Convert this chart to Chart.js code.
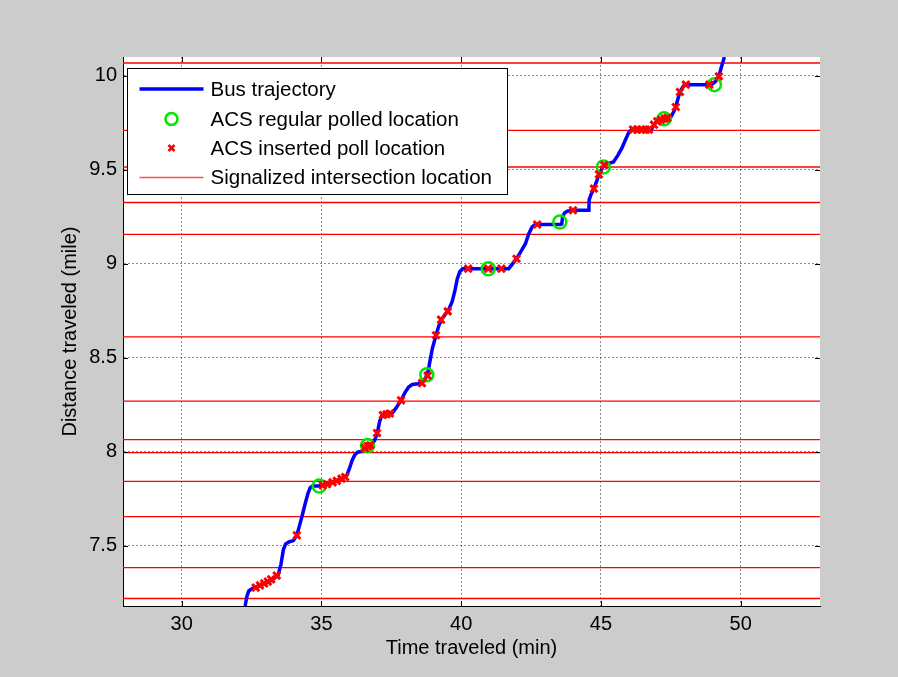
<!DOCTYPE html>
<html>
<head>
<meta charset="utf-8">
<script src="https://cdn.jsdelivr.net/npm/chart.js@4"></script>
<style>
  html, body { margin: 0; padding: 0; background: #cccccc; }
  canvas { display: block; }
</style>
</head>
<body>
<canvas id="busChart" width="898" height="677"></canvas>
<script>
// bus trajectory (time in min, distance in mile)
const tripTime = [32.27, 32.33, 32.40, 32.55, 32.75, 33.0, 33.25, 33.45, 33.55, 33.64, 33.72, 33.85, 34.0, 34.12,
  34.22, 34.32, 34.42, 34.52, 34.6, 34.68, 34.92, 35.1, 35.4, 35.7, 35.9, 36.0, 36.1, 36.2, 36.3, 36.45, 36.6, 36.8,
  36.9, 37.0, 37.08, 37.16, 37.3, 37.55, 37.7, 37.85, 38.0, 38.12, 38.25, 38.45, 38.6, 38.72, 38.82, 38.88, 38.97,
  39.1, 39.2, 39.3, 39.45, 39.55, 39.68, 39.78, 39.86, 39.95, 40.05, 41.7, 41.83, 41.98, 42.13, 42.3, 42.42, 42.54,
  42.65, 43.55, 43.6, 43.63, 43.7, 43.8, 44.0, 44.57, 44.58, 44.65, 44.75, 44.85, 44.93, 45.05, 45.15, 45.3, 45.45,
  45.6, 45.75, 45.88, 46.0, 46.1, 46.8, 46.95, 47.2, 47.5, 47.6, 47.68, 47.76, 47.83, 47.95, 48.05, 48.95, 49.1,
  49.22, 49.3, 49.38, 49.42];
const tripDist = [7.18, 7.23, 7.26, 7.275, 7.285, 7.30, 7.32, 7.345, 7.40, 7.48, 7.51, 7.522, 7.528, 7.556,
  7.61, 7.665, 7.725, 7.78, 7.81, 7.818, 7.818, 7.825, 7.838, 7.855, 7.872, 7.91, 7.955, 7.985, 7.998, 8.003, 8.025, 8.04,
  8.06, 8.10, 8.16, 8.192, 8.2, 8.208, 8.24, 8.274, 8.318, 8.345, 8.358, 8.362, 8.37, 8.39, 8.43, 8.48, 8.55,
  8.62, 8.67, 8.705, 8.735, 8.755, 8.80, 8.86, 8.92, 8.958, 8.974, 8.974, 8.998, 9.027, 9.063, 9.107, 9.16, 9.196,
  9.209, 9.209, 9.212, 9.25, 9.27, 9.28, 9.285, 9.285, 9.34, 9.37, 9.40, 9.44, 9.476, 9.51, 9.53, 9.535, 9.542,
  9.575, 9.615, 9.66, 9.70, 9.714, 9.714, 9.75, 9.77, 9.78, 9.807, 9.834, 9.879, 9.914, 9.945, 9.953, 9.953, 9.97,
  9.997, 10.04, 10.08, 10.1];

// ACS regular polled locations
const polledTime = [34.92, 36.65, 38.77, 40.97, 43.53, 45.09, 47.26, 49.06];
const polledDist = [7.818, 8.033, 8.41, 8.974, 9.222, 9.515, 9.772, 9.953];

// ACS inserted poll locations
const insertedTime = [32.65, 32.8, 32.95, 33.08, 33.2, 33.4, 34.12, 35.05, 35.2, 35.4, 35.55, 35.72, 35.85,
  36.55, 36.65, 36.75, 36.99, 37.2, 37.33, 37.45, 37.85, 38.6, 38.8, 39.1, 39.28, 39.52, 40.25, 40.97, 41.44,
  41.98, 42.72, 44.0, 44.75, 44.93, 45.12, 46.15, 46.3, 46.45, 46.6, 46.72, 46.9, 47.02, 47.15, 47.28, 47.38,
  47.68, 47.83, 48.04, 48.88, 49.22];
const insertedDist = [7.278, 7.29, 7.30, 7.31, 7.322, 7.342, 7.556, 7.822, 7.828, 7.838, 7.846, 7.857, 7.866,
  8.02, 8.03, 8.035, 8.10, 8.196, 8.2, 8.204, 8.274, 8.365, 8.405, 8.62, 8.703, 8.747, 8.974, 8.974, 8.974,
  9.027, 9.209, 9.285, 9.40, 9.476, 9.525, 9.714, 9.714, 9.714, 9.714, 9.714, 9.74, 9.758, 9.765, 9.772, 9.776,
  9.834, 9.914, 9.953, 9.953, 9.997];

// signalized intersection locations (mile)
const signalDist = [10.068, 9.71, 9.515, 9.326, 9.157, 8.611, 8.27, 8.065, 7.996, 7.843, 7.655, 7.384, 7.22];

const timeTicks = [30, 35, 40, 45, 50];
const distTicks = [7.5, 8, 8.5, 9, 9.5, 10];
const timeRange = [27.9, 52.84];
const distRange = [7.18, 10.1];

const legendLabels = ['Bus trajectory', 'ACS regular polled location', 'ACS inserted poll location',
  'Signalized intersection location'];

const FONT = 'Liberation Sans, Arial, Helvetica, sans-serif';
const zip = (xs, ys) => xs.map((x, i) => ({ x: x, y: ys[i] }));

const datasets = [
  {
    label: legendLabels[2], data: zip(insertedTime, insertedDist), showLine: false,
    pointStyle: 'crossRot', pointRadius: 5, borderWidth: 3, borderColor: '#ff0000', backgroundColor: '#ff0000'
  },
  {
    label: legendLabels[1], data: zip(polledTime, polledDist), showLine: false,
    pointStyle: 'circle', pointRadius: 6.5, borderWidth: 2.5, borderColor: '#00e600', backgroundColor: 'rgba(0,0,0,0)'
  },
  {
    label: legendLabels[0], data: zip(tripTime, tripDist), showLine: true, pointRadius: 0,
    borderWidth: 3.5, borderColor: '#0000ff', tension: 0, clip: 0
  }
];
signalDist.forEach(d => {
  datasets.push({
    label: legendLabels[3], data: [{ x: timeRange[0], y: d }, { x: timeRange[1], y: d }],
    showLine: true, pointRadius: 0, borderWidth: 1.3, borderColor: '#ff0000', clip: 0
  });
});

const paperPlugin = {
  id: 'paper',
  beforeDraw(chart) {
    const { ctx, chartArea: a } = chart;
    ctx.save();
    ctx.fillStyle = '#cccccc';
    ctx.fillRect(0, 0, chart.width, chart.height);
    ctx.fillStyle = '#ffffff';
    ctx.fillRect(a.left, a.top, a.right - a.left, a.bottom - a.top);
    ctx.restore();
  },
  afterDatasetsDraw(chart) {
    const { ctx, chartArea: a, scales } = chart;
    ctx.save();
    // inward tick marks on all four sides
    ctx.strokeStyle = '#000';
    ctx.lineWidth = 1;
    ctx.beginPath();
    timeTicks.forEach(v => {
      const px = Math.round(scales.x.getPixelForValue(v)) + 0.5;
      ctx.moveTo(px, a.bottom); ctx.lineTo(px, a.bottom - 5);
      ctx.moveTo(px, a.top); ctx.lineTo(px, a.top + 5);
    });
    distTicks.forEach(v => {
      const py = Math.round(scales.y.getPixelForValue(v)) + 0.5;
      ctx.moveTo(a.left, py); ctx.lineTo(a.left + 5, py);
      ctx.moveTo(a.right, py); ctx.lineTo(a.right - 5, py);
    });
    ctx.stroke();

    // legend box
    const bx = a.left + 4.5, by = a.top + 11.5, bw = 380, bh = 126;
    ctx.fillStyle = '#ffffff';
    ctx.fillRect(bx, by, bw, bh);
    ctx.strokeStyle = '#000';
    ctx.lineWidth = 1;
    ctx.strokeRect(bx, by, bw, bh);
    ctx.font = '20.5px ' + FONT;
    ctx.fillStyle = '#000';
    ctx.textBaseline = 'middle';
    const rowY = [20.5, 50.5, 79.5, 109];
    legendLabels.forEach((lab, i) => {
      const y = by + rowY[i];
      const sx = bx + 44;
      if (i === 0) {
        ctx.strokeStyle = '#0000ff'; ctx.lineWidth = 3.5;
        ctx.beginPath(); ctx.moveTo(bx + 12, y); ctx.lineTo(bx + 76, y); ctx.stroke();
      } else if (i === 1) {
        ctx.strokeStyle = '#00e600'; ctx.lineWidth = 2.5;
        ctx.beginPath(); ctx.arc(sx, y, 6, 0, Math.PI * 2); ctx.stroke();
      } else if (i === 2) {
        ctx.strokeStyle = '#ff0000'; ctx.lineWidth = 2.5;
        ctx.beginPath();
        ctx.moveTo(sx - 3, y - 3); ctx.lineTo(sx + 3, y + 3);
        ctx.moveTo(sx + 3, y - 3); ctx.lineTo(sx - 3, y + 3);
        ctx.stroke();
      } else {
        ctx.strokeStyle = '#ff5050'; ctx.lineWidth = 1.3;
        ctx.beginPath(); ctx.moveTo(bx + 12, y); ctx.lineTo(bx + 76, y); ctx.stroke();
      }
      ctx.fillStyle = '#000';
      ctx.fillText(lab, bx + 83, y + 1);
    });
    ctx.restore();
  }
};

new Chart(document.getElementById('busChart').getContext('2d'), {
  type: 'scatter',
  data: { datasets: datasets },
  options: {
    responsive: false,
    animation: false,
    layout: { padding: { left: 55, top: 57, right: 78, bottom: 0 } },
    plugins: { legend: { display: false }, tooltip: { enabled: false } },
    scales: {
      x: {
        type: 'linear', min: timeRange[0], max: timeRange[1],
        afterBuildTicks: s => { s.ticks = timeTicks.map(v => ({ value: v })); },
        afterFit: s => { s.height = 71; },
        ticks: { color: '#000', font: { family: FONT, size: 20 }, padding: 6, callback: v => String(v) },
        grid: { color: 'rgba(0,0,0,0.45)', lineWidth: 1, drawTicks: false },
        border: { display: true, color: '#000', width: 1, dash: [2, 2] },
        title: { display: true, text: 'Time traveled (min)', color: '#000',
          font: { family: FONT, size: 20 }, padding: { top: 0, bottom: 17 } }
      },
      y: {
        type: 'linear', min: distRange[0], max: distRange[1],
        afterBuildTicks: s => { s.ticks = distTicks.map(v => ({ value: v })); },
        afterFit: s => { s.width = 68; },
        ticks: { color: '#000', font: { family: FONT, size: 20 }, padding: 6, callback: v => String(v) },
        grid: { color: 'rgba(0,0,0,0.45)', lineWidth: 1, drawTicks: false },
        border: { display: true, color: '#000', width: 1, dash: [2, 2] },
        title: { display: true, text: 'Distance traveled (mile)', color: '#000',
          font: { family: FONT, size: 20 }, padding: { top: 3, bottom: 0 } }
      }
    }
  },
  plugins: [paperPlugin]
});
</script>
</body>
</html>
